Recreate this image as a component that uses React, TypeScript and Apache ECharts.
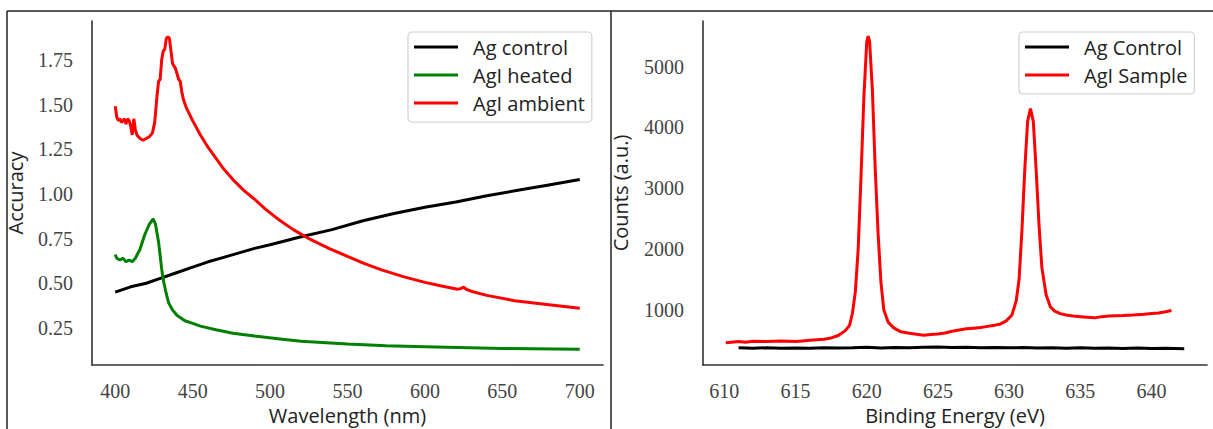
import React, { useEffect, useRef } from "react";
import * as echarts from "echarts";

// ---- Left panel: "Accuracy" vs wavelength ----
const leftXTicks = [400, 450, 500, 550, 600, 650, 700];
const leftYTicks = [0.25, 0.5, 0.75, 1.0, 1.25, 1.5, 1.75];

const agControlX = [400, 410, 420, 430, 440, 450, 460, 470, 480, 490, 500, 520, 540, 560, 580, 600, 620, 640, 660, 680, 700];
const agControlY = [0.45, 0.48, 0.5, 0.53, 0.56, 0.59, 0.62, 0.645, 0.67, 0.695, 0.715, 0.76, 0.8, 0.85, 0.89, 0.925, 0.955, 0.99, 1.02, 1.05, 1.08];

const agiHeatedX = [400, 401, 403, 405, 407, 409, 411, 413, 416, 419, 422, 424.5, 426, 428, 430, 431, 433, 434.5, 437, 440, 445, 450, 455, 465, 476, 490, 505, 520, 550, 575, 600, 650, 700];
const agiHeatedY = [0.66, 0.64, 0.63, 0.64, 0.62, 0.63, 0.62, 0.64, 0.69, 0.77, 0.83, 0.86, 0.83, 0.73, 0.58, 0.52, 0.44, 0.39, 0.35, 0.32, 0.29, 0.275, 0.26, 0.24, 0.22, 0.205, 0.19, 0.175, 0.16, 0.15, 0.145, 0.135, 0.13];

const agiAmbientX = [400, 401, 402, 403, 404, 406, 407, 408, 409, 410, 411, 412, 413, 414, 416, 418, 420, 422, 424, 425.5, 427, 428, 429, 430, 431, 432, 433, 434, 435, 436, 437, 439, 440, 441, 442, 443, 444, 446, 450, 455, 460, 465, 470, 476, 483, 490, 497, 505, 515, 526, 538, 550, 561, 572, 586, 600, 610, 621, 623, 625, 627, 631, 640, 658, 680, 700];
const agiAmbientY = [1.49, 1.43, 1.41, 1.42, 1.4, 1.42, 1.39, 1.42, 1.41, 1.38, 1.33, 1.42, 1.36, 1.33, 1.31, 1.3, 1.31, 1.32, 1.34, 1.4, 1.55, 1.63, 1.64, 1.75, 1.8, 1.81, 1.87, 1.88, 1.87, 1.8, 1.73, 1.7, 1.67, 1.64, 1.63, 1.57, 1.53, 1.48, 1.41, 1.33, 1.26, 1.2, 1.14, 1.08, 1.02, 0.97, 0.915, 0.86, 0.8, 0.745, 0.695, 0.65, 0.61, 0.575, 0.537, 0.505, 0.486, 0.466, 0.47, 0.478, 0.465, 0.452, 0.432, 0.402, 0.38, 0.36];

// ---- Right panel: counts vs binding energy ----
const rightXTicks = [610, 615, 620, 625, 630, 635, 640];
const rightYTicks = [1000, 2000, 3000, 4000, 5000];

const ctrlX = [611, 612, 613, 614, 615, 616, 617, 618, 619, 620, 621, 622, 623, 624, 625, 626, 627, 628, 629, 630, 631, 632, 633, 634, 635, 636, 637, 638, 639, 640, 641, 642.3];
const ctrlY = [380, 372, 378, 370, 376, 372, 380, 374, 378, 385, 376, 382, 378, 385, 390, 382, 388, 380, 384, 378, 382, 376, 380, 372, 378, 370, 375, 368, 374, 366, 370, 362];

const sampleX = [610.1, 610.5, 611, 611.5, 612, 613, 614, 615, 615.5, 616, 616.5, 617, 617.5, 618, 618.5, 618.8, 619.0, 619.2, 619.4, 619.6, 619.8, 620.0, 620.1, 620.2, 620.4, 620.6, 620.8, 621.0, 621.2, 621.5, 621.9, 622.4, 622.9, 623.5, 624, 624.5, 625, 625.5, 626, 626.5, 627, 627.5, 628, 628.5, 629, 629.4, 629.8, 630.2, 630.5, 630.7, 630.9, 631.1, 631.3, 631.5, 631.7, 631.9, 632.1, 632.3, 632.6, 632.9, 633.2, 633.6, 634, 634.5, 635, 635.5, 636, 636.5, 637, 637.5, 638, 638.7, 639.5, 640, 640.5, 641, 641.4];
const sampleY = [460, 470, 480, 470, 485, 480, 490, 480, 490, 500, 510, 520, 540, 580, 660, 750, 950, 1300, 2000, 3200, 4500, 5400, 5500, 5420, 4600, 3300, 2250, 1450, 1000, 800, 705, 640, 620, 600, 585, 595, 605, 620, 650, 670, 690, 700, 710, 730, 750, 770, 820, 918, 1150, 1500, 2300, 3300, 4100, 4310, 4100, 3300, 2400, 1700, 1250, 1050, 980, 940, 918, 900, 890, 880, 870, 890, 900, 905, 910, 918, 930, 940, 950, 970, 990];

const pairs = (xs: number[], ys: number[]) => xs.map((x, i) => [x, ys[i]]);

const SERIF = "'Liberation Serif', 'DejaVu Serif', serif";
const SANS = "'Open Sans', 'DejaVu Sans', sans-serif";
const AXIS_COLOR = "#333";

function axisBase(ticks: number[], fmt: (v: number) => string, margin: number) {
  return {
    type: "value" as const,
    axisLine: { show: true, lineStyle: { color: AXIS_COLOR, width: 1.6 } },
    axisTick: { show: false },
    splitLine: { show: false },
    axisLabel: {
      customValues: ticks,
      formatter: (v: number) => fmt(v),
      color: "#444",
      fontFamily: SERIF,
      fontSize: 20,
      margin,
    },
  };
}

function lineSeries(name: string, data: number[][], color: string, idx: number) {
  return {
    type: "line" as const,
    name,
    data,
    xAxisIndex: idx,
    yAxisIndex: idx,
    showSymbol: false,
    symbol: "none",
    lineStyle: { color, width: 3 },
    itemStyle: { color },
    z: 3,
  };
}

function legendBase(left: number, names: string[]) {
  return {
    orient: "vertical" as const,
    left,
    top: 32,
    data: names.map((n) => ({ name: n, icon: "rect" })),
    itemWidth: 44,
    itemHeight: 3,
    itemGap: 6,
    padding: [4, 7, 8, 6],
    backgroundColor: "#fff",
    borderColor: "#d0d0d0",
    borderWidth: 1.2,
    borderRadius: 4,
    textStyle: {
      fontFamily: SANS,
      fontSize: 20,
      color: "#222",
      lineHeight: 22,
      padding: [0, 0, 0, 10],
    },
  };
}

const nameStyle = { fontFamily: SANS, fontSize: 20, color: "#222", lineHeight: 20 };

export default function App() {
  const ref = useRef<HTMLDivElement>(null);
  useEffect(() => {
    if (!ref.current) return;
    const chart = echarts.init(ref.current, null, { renderer: "svg" });
    chart.setOption({
      animation: false,
      backgroundColor: "#fff",
      grid: [
        { left: 92, top: 21, width: 511, height: 344, containLabel: false, outerBoundsMode: "none" },
        { left: 703, top: 21, width: 504, height: 344, containLabel: false, outerBoundsMode: "none" },
      ],
      xAxis: [
        {
          ...axisBase(leftXTicks, (v) => String(v), 16),
          gridIndex: 0,
          min: 385,
          max: 715,
          name: "Wavelength (nm)",
          nameLocation: "middle",
          nameGap: 40,
          nameTextStyle: nameStyle,
        },
        {
          ...axisBase(rightXTicks, (v) => String(v), 16),
          gridIndex: 1,
          min: 608.5,
          max: 643.9,
          name: "Binding Energy (eV)",
          nameLocation: "middle",
          nameGap: 40,
          nameTextStyle: nameStyle,
        },
      ],
      yAxis: [
        {
          ...axisBase(leftYTicks, (v) => v.toFixed(2), 19),
          gridIndex: 0,
          min: 0.0425,
          max: 1.9675,
          name: "Accuracy",
          nameLocation: "middle",
          nameGap: 67,
          nameTextStyle: nameStyle,
        },
        {
          ...axisBase(rightYTicks, (v) => String(v), 19),
          gridIndex: 1,
          min: 95,
          max: 5750,
          name: "Counts (a.u.)",
          nameLocation: "middle",
          nameGap: 73,
          nameTextStyle: nameStyle,
        },
      ],
      legend: [
        legendBase(408, ["Ag control", "AgI heated", "AgI ambient"]),
        legendBase(1019, ["Ag Control", "AgI Sample"]),
      ],
      series: [
        lineSeries("Ag control", pairs(agControlX, agControlY), "#000000", 0),
        lineSeries("AgI heated", pairs(agiHeatedX, agiHeatedY), "#008000", 0),
        lineSeries("AgI ambient", pairs(agiAmbientX, agiAmbientY), "#ff0000", 0),
        lineSeries("Ag Control", pairs(ctrlX, ctrlY), "#000000", 1),
        lineSeries("AgI Sample", pairs(sampleX, sampleY), "#ff0000", 1),
      ],
      graphic: [
        { type: "line", shape: { x1: 7, y1: 11, x2: 1213, y2: 11 }, style: { stroke: "#222", lineWidth: 1.5 }, z: 10 },
        { type: "line", shape: { x1: 7, y1: 11, x2: 7, y2: 429 }, style: { stroke: "#222", lineWidth: 1.5 }, z: 10 },
        { type: "line", shape: { x1: 611, y1: 11, x2: 611, y2: 429 }, style: { stroke: "#222", lineWidth: 1.5 }, z: 10 },
      ],
    });
    return () => chart.dispose();
  }, []);
  return (
    <div
      ref={ref}
      style={{ position: "fixed", left: 0, top: 0, width: 1213, height: 429 }}
    />
  );
}
